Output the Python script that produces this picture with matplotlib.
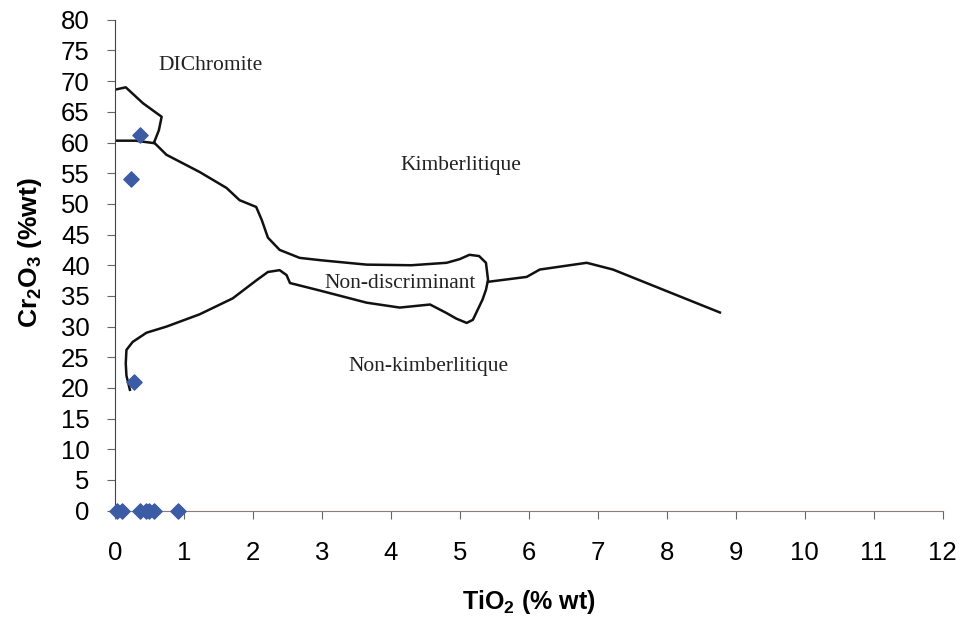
import matplotlib
matplotlib.use('Agg')
import matplotlib.pyplot as plt

# échantillons (TiO2, Cr2O3)
ti_pts = [0.37, 0.24, 0.28, 0.03, 0.10, 0.36, 0.45, 0.50, 0.57, 0.91]
cr_pts = [61.2, 54.1, 20.9, 0, 0, 0, 0, 0, 0, 0]

# limite du champ DIChromite
dic_x = [0.0, 0.16, 0.41, 0.68, 0.64, 0.57]
dic_y = [68.6, 69.0, 66.4, 64.2, 62.0, 60.0]
dic2_x = [0.0, 0.30, 0.57]
dic2_y = [60.3, 60.3, 59.9]

# limite supérieure (kimberlitique) + boucle non-discriminant
up_x = [0.57, 0.75, 1.23, 1.62, 1.81, 2.05, 2.13, 2.22, 2.39, 2.68, 3.0, 3.65, 4.3, 4.81,
        5.0, 5.14, 5.28, 5.38, 5.41, 5.38, 5.33, 5.19, 5.10, 4.95, 4.81, 4.57, 4.13,
        3.65, 2.93, 2.54, 2.49, 2.39, 2.22, 2.06, 1.71, 1.23, 0.75, 0.46, 0.26, 0.17,
        0.16, 0.17, 0.22]
up_y = [60.0, 58.0, 55.2, 52.6, 50.6, 49.5, 47.4, 44.5, 42.5, 41.2, 40.8, 40.1, 40.0, 40.4,
        41.0, 41.7, 41.5, 40.4, 37.6, 36.0, 34.4, 31.1, 30.6, 31.3, 32.2, 33.6, 33.1,
        33.9, 36.0, 37.1, 38.4, 39.2, 38.9, 37.6, 34.6, 32.0, 30.0, 29.0, 27.5, 26.2,
        24.0, 22.0, 19.7]

# prolongement à droite
right_x = [5.41, 5.97, 6.16, 6.84, 7.22, 8.77]
right_y = [37.3, 38.1, 39.3, 40.4, 39.3, 32.3]

labels = ['DIChromite', 'Kimberlitique', 'Non-discriminant', 'Non-kimberlitique']
lab_x = [1.39, 5.01, 4.13, 4.54]
lab_y = [72.5, 56.2, 37.1, 23.5]

fig = plt.figure(figsize=(9.64, 6.19), dpi=100)
ax = fig.add_axes([0.119, 0.175, 0.859, 0.793])

for xs, ys in [(dic_x, dic_y), (dic2_x, dic2_y), (up_x, up_y), (right_x, right_y)]:
    ax.plot(xs, ys, color='#111111', lw=1.8, solid_joinstyle='round', zorder=2)

ax.scatter(ti_pts, cr_pts, marker='D', s=60, color='#3b5ba5', zorder=3, clip_on=False)

for t, x, y in zip(labels, lab_x, lab_y):
    ax.text(x, y, t, ha='center', va='center', fontsize=15.5,
            family='Liberation Serif', color='#222222')

ax.set_xlim(0, 12)
ax.set_ylim(0, 80)
ax.set_xticks(range(0, 13))
ax.set_yticks(range(0, 81, 5))
for s in ['top', 'right']:
    ax.spines[s].set_visible(False)
ax.spines['left'].set_color('#444444')
ax.spines['bottom'].set_color('#8a7d78')
ax.tick_params(axis='y', direction='out', length=6, pad=12, color='#666666',
               labelsize=18.5)
ax.tick_params(axis='x', direction='out', length=6, pad=16, color='#666666',
               labelsize=18.5)
for lab in ax.get_xticklabels() + ax.get_yticklabels():
    lab.set_family('Liberation Sans')

ax.set_xlabel('TiO$_\\mathregular{2}$ (% wt)', fontsize=18, fontweight='bold',
              family='Liberation Sans')
ax.set_ylabel('Cr$_\\mathregular{2}$O$_\\mathregular{3}$ (%wt)', fontsize=19,
              fontweight='bold', family='Liberation Sans')
ax.xaxis.set_label_coords(0.5, -0.158)
ax.yaxis.set_label_coords(-0.085, 0.525)

fig.savefig('out.png', dpi=100)
